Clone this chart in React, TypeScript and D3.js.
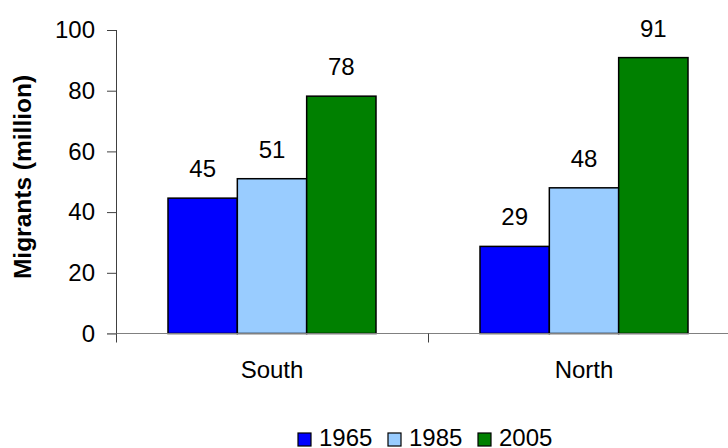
import React, { useEffect, useRef } from "react";
import * as d3 from "d3";

const regions = ["South", "North"];
const years = ["1965", "1985", "2005"];
const migrants1965 = [44.6, 28.7];
const migrants1985 = [51.0, 48.0];
const migrants2005 = [78.2, 90.9];
const yTicks = [0, 20, 40, 60, 80, 100];
const colors = ["#0000ff", "#99ccff", "#008000"];

const seriesValues = [migrants1965, migrants1985, migrants2005];

export default function App() {
  const ref = useRef<SVGSVGElement | null>(null);

  useEffect(() => {
    const width = 728;
    const height = 448;
    const font = "Arial, 'Liberation Sans', sans-serif";
    const fs = 24;

    const svg = d3.select(ref.current);
    svg.selectAll("*").remove();
    svg.attr("width", width).attr("height", height);

    const x0 = d3.scaleBand<string>().domain(regions).range([116, 740]);
    const inset = x0.bandwidth() / 6;
    const x1 = d3.scaleBand<string>().domain(years).range([inset, x0.bandwidth() - inset]);
    const y = d3.scaleLinear().domain([0, 100]).range([333.5, 30]);

    // bars
    const groups = svg
      .selectAll("g.region")
      .data(regions)
      .join("g")
      .attr("class", "region")
      .attr("transform", (d) => `translate(${x0(d)},0)`);

    groups
      .selectAll("rect")
      .data((_, i) => years.map((yr, s) => ({ yr, s, v: seriesValues[s][i] })))
      .join("rect")
      .attr("x", (d) => x1(d.yr) as number)
      .attr("y", (d) => y(d.v))
      .attr("width", x1.bandwidth())
      .attr("height", (d) => y(0) - y(d.v))
      .attr("fill", (d) => colors[d.s])
      .attr("stroke", "#000")
      .attr("stroke-width", 1.5);

    groups
      .selectAll("text")
      .data((_, i) => years.map((yr, s) => ({ yr, s, v: seriesValues[s][i] })))
      .join("text")
      .attr("x", (d) => (x1(d.yr) as number) + x1.bandwidth() / 2)
      .attr("y", (d) => y(d.v) - 21)
      .attr("text-anchor", "middle")
      .attr("font-family", font)
      .attr("font-size", fs)
      .attr("fill", "#000")
      .text((d) => d3.format(".0f")(d.v));

    // y axis
    const yAxis = svg
      .append("g")
      .attr("transform", "translate(116,0)")
      .call(d3.axisLeft(y).tickValues(yTicks).tickSize(9).tickPadding(12));
    yAxis.select(".domain").attr("stroke", "#404040").attr("d", `M0.5,${y(100)}V${y(0)}`);
    yAxis.selectAll(".tick line").attr("stroke", "#404040");
    yAxis
      .selectAll(".tick text")
      .attr("font-family", font)
      .attr("font-size", fs)
      .attr("fill", "#000");

    // x axis
    const xAxis = svg.append("g");
    xAxis
      .append("line")
      .attr("x1", 107)
      .attr("x2", 740)
      .attr("y1", y(0))
      .attr("y2", y(0))
      .attr("stroke", "#808080");
    xAxis
      .selectAll("line.sep")
      .data([...regions.map((r) => x0(r) as number), 740])
      .join("line")
      .attr("class", "sep")
      .attr("x1", (d) => d + 0.5)
      .attr("x2", (d) => d + 0.5)
      .attr("y1", y(0))
      .attr("y2", y(0) + 9)
      .attr("stroke", "#404040");
    xAxis
      .selectAll("text")
      .data(regions)
      .join("text")
      .attr("x", (d) => (x0(d) as number) + x0.bandwidth() / 2)
      .attr("y", 378)
      .attr("text-anchor", "middle")
      .attr("font-family", font)
      .attr("font-size", fs)
      .attr("fill", "#000")
      .text((d) => d);

    // y title
    svg
      .append("text")
      .attr("transform", "translate(31,177) rotate(-90)")
      .attr("text-anchor", "middle")
      .attr("font-family", font)
      .attr("font-size", 24.5)
      .attr("font-weight", "bold")
      .attr("fill", "#000")
      .text("Migrants (million)");

    // legend
    const legendX = [298, 388, 478];
    const legend = svg
      .selectAll("g.legend")
      .data(years)
      .join("g")
      .attr("class", "legend")
      .attr("transform", (_, i) => `translate(${legendX[i]},433)`);
    legend
      .append("rect")
      .attr("width", 13)
      .attr("height", 13)
      .attr("fill", (_, i) => colors[i])
      .attr("stroke", "#000")
      .attr("stroke-width", 1.2);
    legend
      .append("text")
      .attr("x", 21)
      .attr("y", 13)
      .attr("font-family", font)
      .attr("font-size", fs)
      .attr("fill", "#000")
      .text((d) => d);
  }, []);

  return (
    <svg
      ref={ref}
      style={{ position: "absolute", left: 0, top: 0, display: "block", background: "#fff" }}
    />
  );
}
